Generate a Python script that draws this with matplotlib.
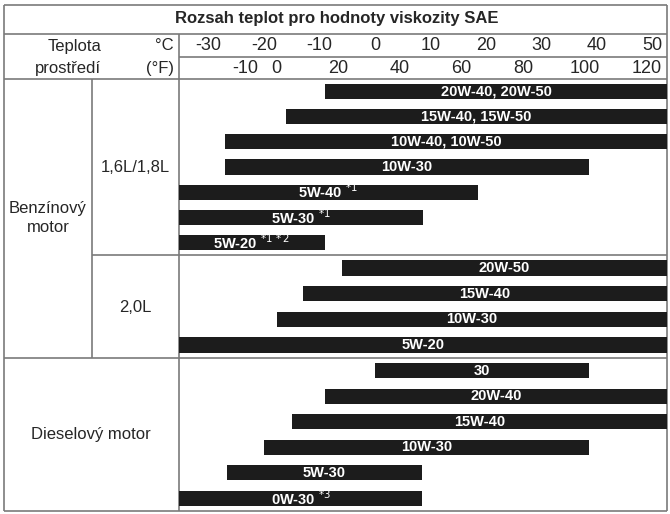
import numpy as np
import matplotlib.pyplot as plt

plt.rcParams['font.family'] = ['Liberation Sans', 'DejaVu Sans']

W, H = 670, 514

title = "Rozsah teplot pro hodnoty viskozity SAE"
celsius_ticks = [-30, -20, -10, 0, 10, 20, 30, 40, 50]
fahrenheit_ticks = [-10, 0, 20, 40, 60, 80, 100, 120]

# open-ended ranges run past the scale (-40 / 60) and are clipped by the axes
petrol_small_labels = ["20W-40, 20W-50", "15W-40, 15W-50", "10W-40, 10W-50", "10W-30",
                       r"5W-40 $^{*1}$", r"5W-30 $^{*1}$", r"5W-20 $^{*1\,*2}$"]
petrol_small_start = [-9, -16, -27, -27, -40, -40, -40]
petrol_small_end = [60, 60, 60, 38.5, 18.5, 8.7, -9]

petrol_big_labels = ["20W-50", "15W-40", "10W-30", "5W-20"]
petrol_big_start = [-6, -13, -17.6, -40]
petrol_big_end = [60, 60, 60, 60]

diesel_labels = ["30", "20W-40", "15W-40", "10W-30", "5W-30", r"0W-30 $^{*3}$"]
diesel_start = [0, -9, -15, -20, -26.7, -40]
diesel_end = [38.5, 60, 60, 38.5, 8.5, 8.5]

line_col = '#7a7a7a'
text_col = '#262626'
bar_col = '#1c1c1c'

# temperature scale: 0 degC at x=375 px, 5.55 px per degC
X0, X1 = 179, 667
xlim = ((X0 - 375) / 5.55, (X1 - 375) / 5.55)

fig = plt.figure(figsize=(W / 100, H / 100), dpi=100)


def px_axes(x0, y0, x1, y1):
    return fig.add_axes([x0 / W, 1 - y1 / H, (x1 - x0) / W, (y1 - y0) / H])


# background axes in pixel coordinates for the table frame
bg = fig.add_axes([0, 0, 1, 1])
bg.set_xlim(0, W)
bg.set_ylim(H, 0)
bg.axis('off')

frame = [((4, 667), (5, 5)), ((4, 667), (511, 511)), ((4, 4), (5, 511)), ((667, 667), (5, 511)),
         ((4, 667), (34, 34)), ((X0, 667), (57, 57)), ((4, 667), (79, 79)),
         ((X0, X0), (34, 511)), ((92, 92), (79, 358)), ((92, 667), (255, 255)),
         ((4, 667), (358, 358))]
for xs, ys in frame:
    bg.plot(xs, ys, color=line_col, lw=1.2, solid_capstyle='butt')

bg.text(337, 19, title, ha='center', va='center', fontsize=12, fontweight='bold', color=text_col)
bg.text(75, 46, "Teplota", ha='center', va='center', fontsize=12, color=text_col)
bg.text(68, 69, "prostředí", ha='center', va='center', fontsize=12, color=text_col)
bg.text(174, 46, "°C", ha='right', va='center', fontsize=12, color=text_col)
bg.text(174, 69, "(°F)", ha='right', va='center', fontsize=12, color=text_col)
bg.text(48, 218, "Benzínový\nmotor", ha='center', va='center', fontsize=12,
        color=text_col, linespacing=1.3)
bg.text(135, 167, "1,6L/1,8L", ha='center', va='center', fontsize=12, color=text_col)
bg.text(135, 307, "2,0L", ha='center', va='center', fontsize=12, color=text_col)
bg.text(91, 434, "Dieselový motor", ha='center', va='center', fontsize=12, color=text_col)

# header scale
hd = px_axes(X0, 34, X1, 80)
hd.set_xlim(*xlim)
hd.set_ylim(1, 0)
hd.axis('off')
for c in celsius_ticks:
    hd.text(c, 0.26, str(c), ha='center', va='center', fontsize=13, color=text_col)
for f in fahrenheit_ticks:
    hd.text((f - 32) * 5 / 9, 0.76, str(f), ha='center', va='center', fontsize=13, color=text_col)

groups = [
    ((79, 255), petrol_small_labels, petrol_small_start, petrol_small_end),
    ((255, 358), petrol_big_labels, petrol_big_start, petrol_big_end),
    ((358, 511), diesel_labels, diesel_start, diesel_end),
]

for (y0, y1), labels, start, end in groups:
    ax = px_axes(X0, y0, X1, y1)
    n = len(labels)
    start = np.array(start, dtype=float)
    end = np.array(end, dtype=float)
    ax.barh(np.arange(n), end - start, left=start, height=0.6, color=bar_col)
    ax.set_xlim(*xlim)
    ax.set_ylim(n - 0.5, -0.5)
    ax.axis('off')
    for i, lab in enumerate(labels):
        cx = (max(start[i], xlim[0]) + min(end[i], xlim[1])) / 2
        ax.text(cx, i, lab, ha='center', va='center', color='white',
                fontsize=10.5, fontweight='bold')

fig.savefig('out.png', dpi=100)
